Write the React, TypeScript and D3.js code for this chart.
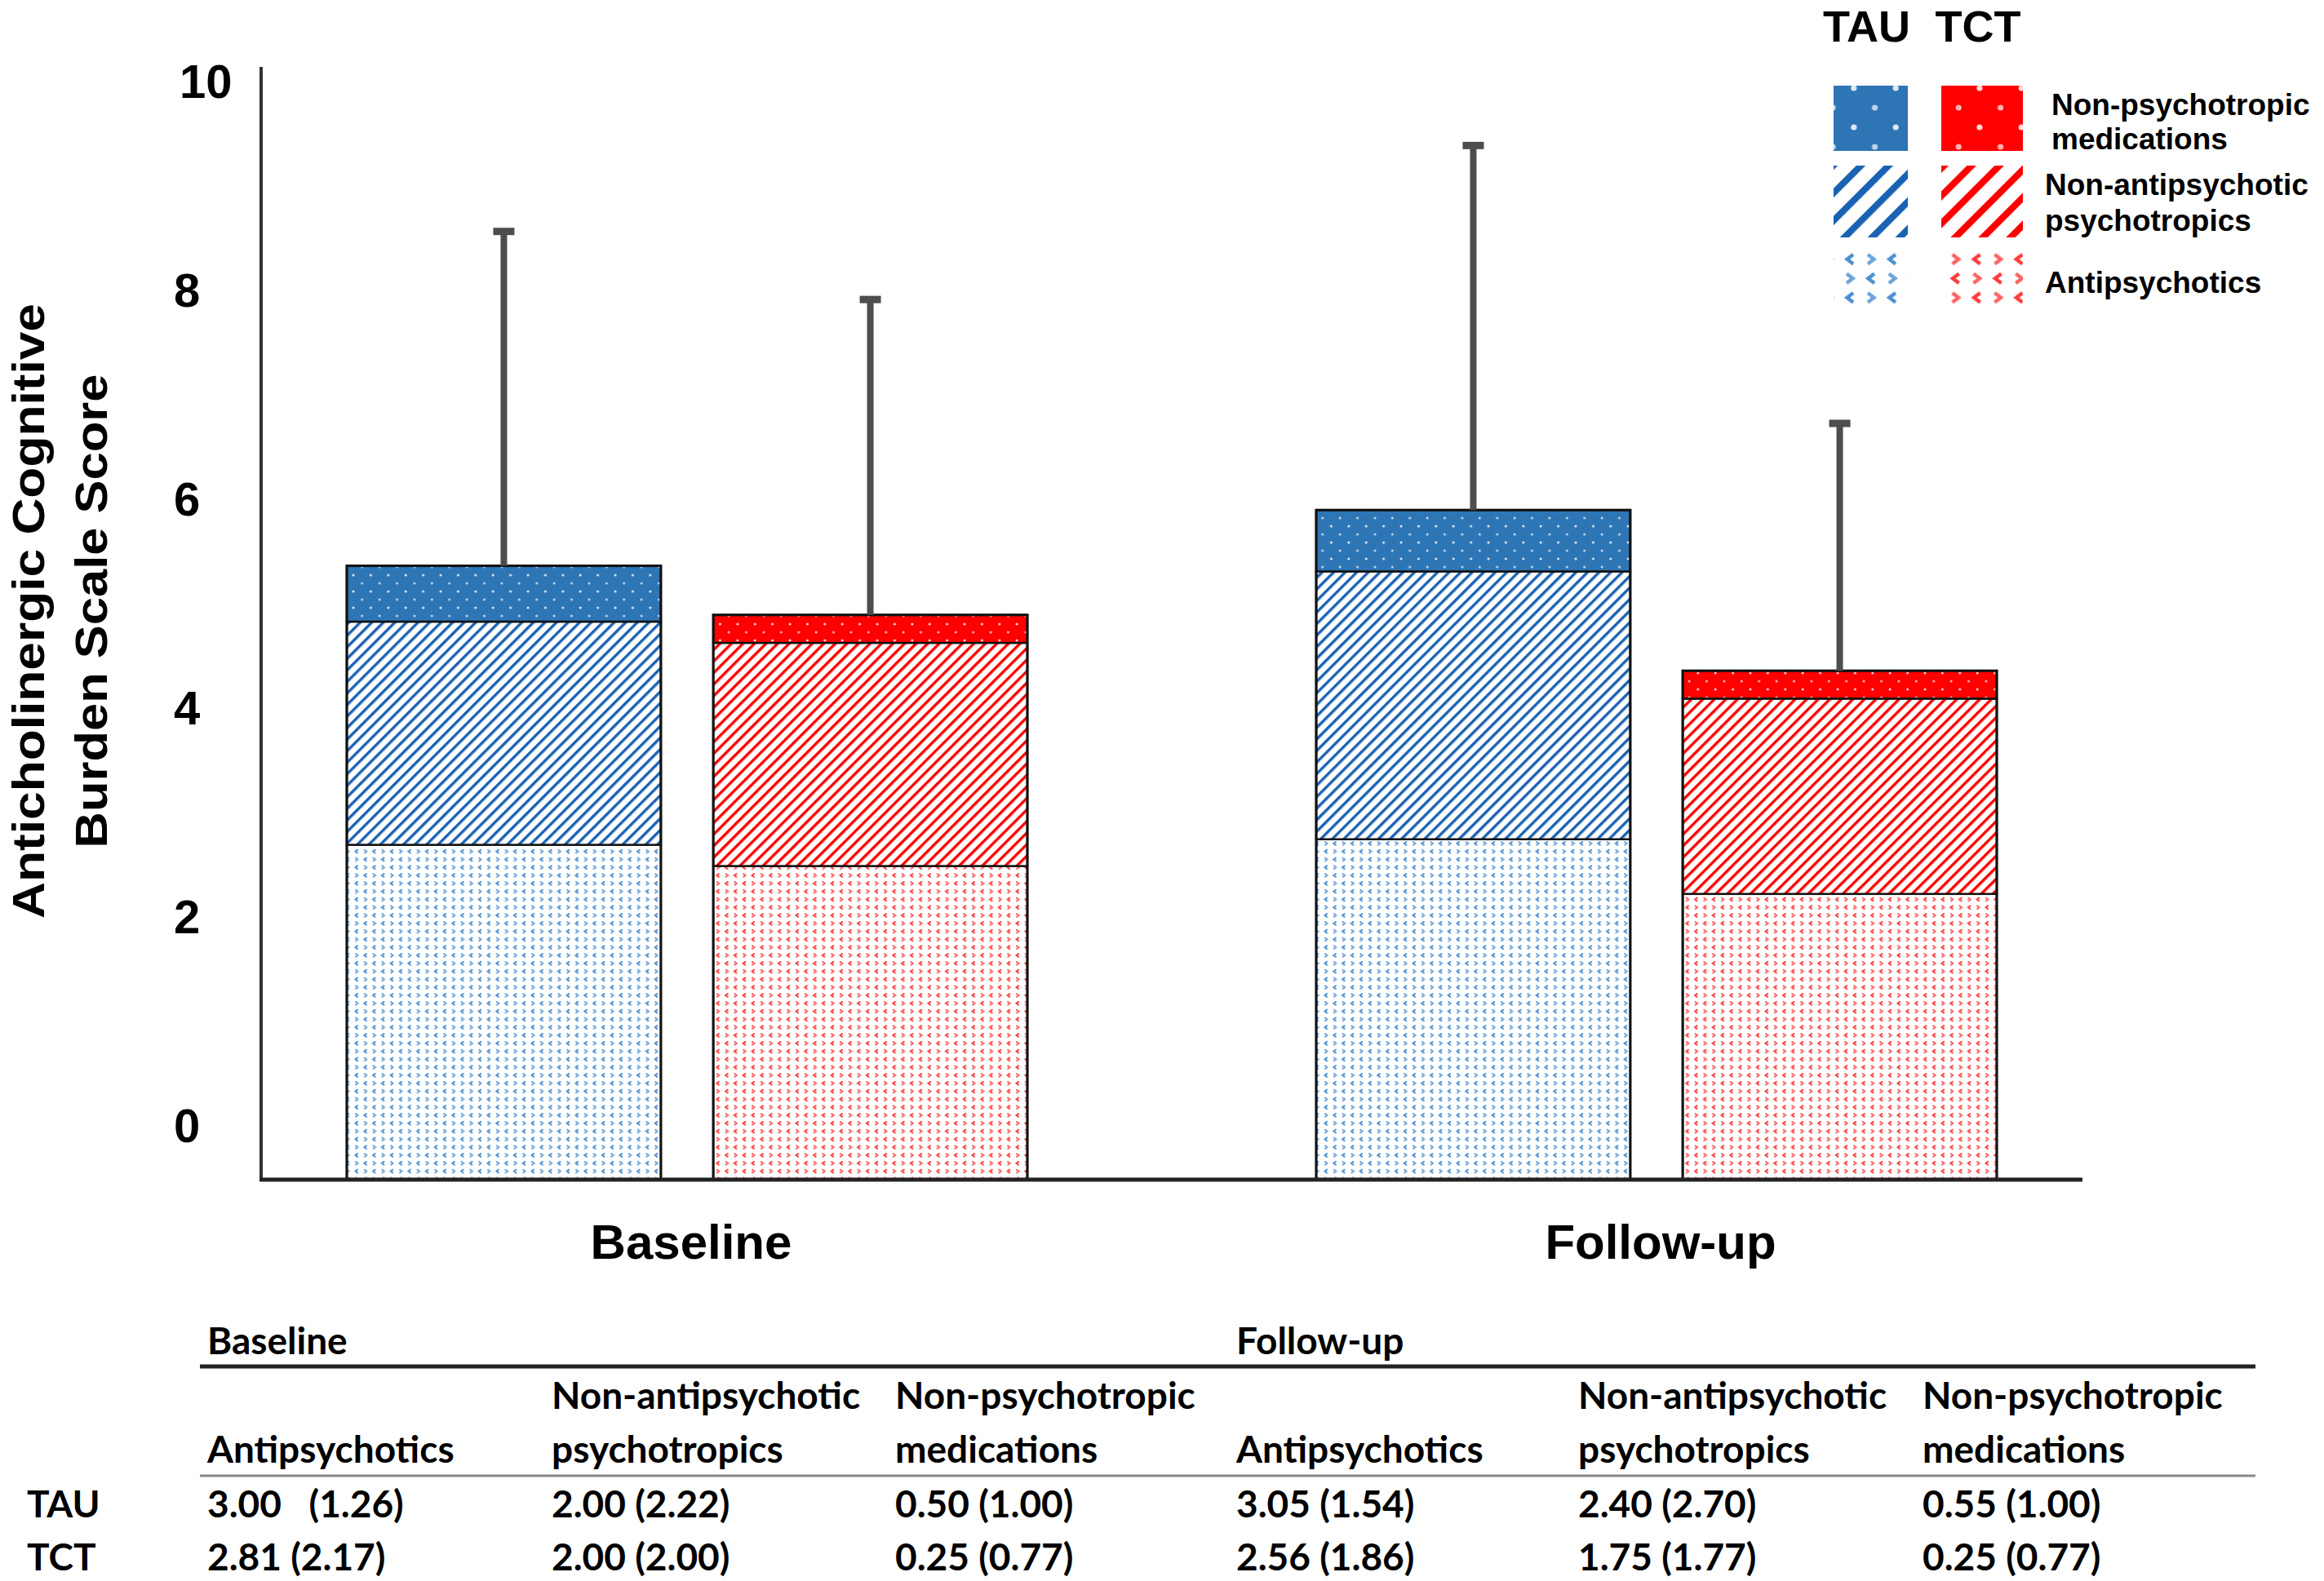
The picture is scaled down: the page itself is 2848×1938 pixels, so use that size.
import React from 'react';
import * as d3 from 'd3';

// ---------- data ----------
const groups = ['Baseline', 'Follow-up'];
const arms = ['TAU', 'TCT'];
const componentKeys = ['antipsychotics', 'nonAntipsychotic', 'nonPsychotropic'];
const componentLabels = [['Antipsychotics'], ['Non-antipsychotic', 'psychotropics'], ['Non-psychotropic', 'medications']];

const tauAntipsychotics = [3.0, 3.05];
const tauNonAntipsychotic = [2.0, 2.4];
const tauNonPsychotropic = [0.5, 0.55];
const tctAntipsychotics = [2.81, 2.56];
const tctNonAntipsychotic = [2.0, 1.75];
const tctNonPsychotropic = [0.25, 0.25];
// upper error bar length above stacked total
const tauError = [3.0, 3.27];
const tctError = [2.83, 2.22];

const yTicks = [0, 2, 4, 6, 8, 10];
const yTitle = ['Anticholinergic Cognitive', 'Burden Scale Score'];

// table
const tableGroups = ['Baseline', 'Follow-up'];
const tableHeadLine1 = ['', 'Non-antipsychotic', 'Non-psychotropic', '', 'Non-antipsychotic', 'Non-psychotropic'];
const tableHeadLine2 = ['Antipsychotics', 'psychotropics', 'medications', 'Antipsychotics', 'psychotropics', 'medications'];
const tableRowLabels = ['TAU', 'TCT'];
const tableTAU = ['3.00   (1.26)', '2.00 (2.22)', '0.50 (1.00)', '3.05 (1.54)', '2.40 (2.70)', '0.55 (1.00)'];
const tableTCT = ['2.81 (2.17)', '2.00 (2.00)', '0.25 (0.77)', '2.56 (1.86)', '1.75 (1.77)', '0.25 (0.77)'];

// ---------- styling ----------
const armColors: Record<string, { solid: string; hatch: string; chev: string }> = {
  TAU: { solid: '#2e75b6', hatch: '#1a62b3', chev: '#4a8fd0' },
  TCT: { solid: '#ff0000', hatch: '#ff0000', chev: '#ff3b3b' },
};
const patternFor = ['chev', 'hatch', 'dots'];

const W = 2848;
const H = 1938;
const plotLeft = 320;
const plotRight = 2552;

const y = d3.scaleLinear().domain([0, 10]).range([1446, 78]);
const yLabel = d3.scaleLinear().domain([0, 10]).range([1380, 100]);
const xGroup = d3.scaleBand<string>().domain(groups).range([248, 2624]);
const xArm = d3.scaleBand<string>().domain(arms).range([-417, 417]).paddingInner(0.143);

const rows = groups.flatMap((g, gi) =>
  arms.map((a) => ({
    group: g,
    arm: a,
    antipsychotics: a === 'TAU' ? tauAntipsychotics[gi] : tctAntipsychotics[gi],
    nonAntipsychotic: a === 'TAU' ? tauNonAntipsychotic[gi] : tctNonAntipsychotic[gi],
    nonPsychotropic: a === 'TAU' ? tauNonPsychotropic[gi] : tctNonPsychotropic[gi],
    err: a === 'TAU' ? tauError[gi] : tctError[gi],
  }))
);
const stacked = d3.stack<any>().keys(componentKeys)(rows);

// table columns
const tableColX = d3.scaleOrdinal<number, number>().domain([0, 1, 2, 3, 4, 5]).range([254, 676, 1097, 1515, 1934, 2356]);

function PatternSet({ arm, suffix, scale, chevW }: { arm: string; suffix: string; scale: number; chevW: number }) {
  const c = armColors[arm];
  const chevPath = (cx: number, cy: number, dir: number) =>
    `M${cx + 1.7 * dir},${cy - 2.4} L${cx - 1.5 * dir},${cy} L${cx + 1.7 * dir},${cy + 2.4}`;
  return (
    <>
      <pattern id={`dots-${arm}${suffix}`} width={21.4} height={20} patternUnits="userSpaceOnUse" patternTransform={`scale(${scale})`}>
        <rect width={21.4} height={20} fill={c.solid} />
        <circle cx={5} cy={5} r={1.5} fill="#fff" opacity={0.85} />
        <circle cx={15.7} cy={15} r={1.5} fill="#fff" opacity={0.7} />
      </pattern>
      <pattern id={`hatch-${arm}${suffix}`} width={10} height={10} patternUnits="userSpaceOnUse" patternTransform={`rotate(45) scale(${scale})`}>
        <rect width={10} height={10} fill="#fff" />
        <rect x={0} y={0} width={3.4} height={10} fill={c.hatch} />
      </pattern>
      <pattern id={`chev-${arm}${suffix}`} width={21.6} height={19.6} patternUnits="userSpaceOnUse" patternTransform={`scale(${scale})`}>
        <rect width={21.6} height={19.6} fill="#fff" />
        <path d={chevPath(5, 5, 1)} stroke={c.chev} strokeWidth={chevW} fill="none" />
        <path d={chevPath(15.8, 5, -1)} stroke={c.chev} strokeWidth={chevW} fill="none" opacity={0.8} />
        <path d={chevPath(5, 14.8, -1)} stroke={c.chev} strokeWidth={chevW} fill="none" opacity={0.8} />
        <path d={chevPath(15.8, 14.8, 1)} stroke={c.chev} strokeWidth={chevW} fill="none" />
      </pattern>
    </>
  );
}

const legendCols: Record<string, { x: number; w: number }> = {
  TAU: { x: 2247, w: 91 },
  TCT: { x: 2379, w: 100 },
};
const legendRows = [
  { key: 'nonPsychotropic', y: 105, h: 80, labelIdx: 2, lx: 2514, ly: [141, 183] },
  { key: 'nonAntipsychotic', y: 203, h: 88, labelIdx: 1, lx: 2506, ly: [239, 283] },
  { key: 'antipsychotics', y: 309, h: 69, labelIdx: 0, lx: 2506, ly: [359] },
];

export default function App() {
  const bw = xArm.bandwidth();
  const fontArial = '"Liberation Sans", Arial, sans-serif';
  const fontTable = 'Lato, "Open Sans", sans-serif';
  return (
    <svg width={W} height={H} style={{ position: 'absolute', left: 0, top: 0, background: '#fff' }} xmlns="http://www.w3.org/2000/svg">
      <defs>
        {arms.map((a) => (
          <React.Fragment key={a}>
            <PatternSet arm={a} suffix="" scale={1} chevW={2} />
            <PatternSet arm={a} suffix="-lg" scale={2.4} chevW={1.8} />
          </React.Fragment>
        ))}
      </defs>
      <rect width={W} height={H} fill="#fff" />

      {/* bars */}
      {stacked.map((layer, li) =>
        layer.map((seg, i) => {
          const r = rows[i];
          const x0 = (xGroup(r.group) as number) + xGroup.bandwidth() / 2 + (xArm(r.arm) as number);
          return (
            <rect
              key={`${li}-${i}`}
              x={x0}
              y={y(seg[1])}
              width={bw}
              height={y(seg[0]) - y(seg[1])}
              fill={`url(#${patternFor[li]}-${r.arm})`}
              stroke={li === 0 ? '#555' : '#111'}
              strokeWidth={2.5}
            />
          );
        })
      )}
      {/* outer bar outlines */}
      {rows.map((r, i) => {
        const x0 = (xGroup(r.group) as number) + xGroup.bandwidth() / 2 + (xArm(r.arm) as number);
        const total = stacked[stacked.length - 1][i][1];
        return <rect key={`o${i}`} x={x0} y={y(total)} width={bw} height={y(0) - y(total)} fill="none" stroke="#111" strokeWidth={3} />;
      })}
      {/* error bars */}
      {rows.map((r, i) => {
        const cx = (xGroup(r.group) as number) + xGroup.bandwidth() / 2 + (xArm(r.arm) as number) + bw / 2;
        const total = stacked[stacked.length - 1][i][1];
        return (
          <g key={`e${i}`}>
            <line x1={cx} x2={cx} y1={y(total)} y2={y(total + r.err)} stroke="#4d4d4d" strokeWidth={8} />
            <rect x={cx - 13} y={y(total + r.err) - 4} width={26} height={9} fill="#4d4d4d" />
          </g>
        );
      })}

      {/* axes */}
      <line x1={plotLeft} x2={plotLeft} y1={y(10) + 4} y2={y(0)} stroke="#333" strokeWidth={4} />
      <line x1={plotLeft - 2} x2={plotRight} y1={y(0)} y2={y(0)} stroke="#222" strokeWidth={5} />

      {/* y tick labels */}
      {yTicks.map((t) => (
        <text key={t} x={t >= 10 ? 220 : 213} y={yLabel(t) + 20} fontFamily={fontArial} fontWeight="bold" fontSize={58} fill="#000">
          {t}
        </text>
      ))}

      {/* y title */}
      {yTitle.map((s, i) => (
        <text
          key={s}
          transform={`translate(${54 + i * 77},749) rotate(-90)`}
          textAnchor="middle"
          fontFamily={fontArial}
          fontWeight="bold"
          fontSize={56}
          textLength={i === 0 ? 754 : 581}
          lengthAdjust="spacingAndGlyphs"
          fill="#000"
        >
          {s}
        </text>
      ))}

      {/* x group labels */}
      {groups.map((g) => (
        <text
          key={g}
          x={(xGroup(g) as number) + xGroup.bandwidth() / 2 + 5}
          y={1543}
          textAnchor="middle"
          fontFamily={fontArial}
          fontWeight="bold"
          fontSize={60}
          fill="#000"
        >
          {g}
        </text>
      ))}

      {/* legend */}
      {arms.map((a) => (
        <text key={a} x={legendCols[a].x + legendCols[a].w / 2 - 5} y={51} textAnchor="middle" fontFamily={fontArial} fontWeight="bold" fontSize={54} fill="#000">
          {a}
        </text>
      ))}
      {legendRows.map((lr) => (
        <g key={lr.key}>
          {arms.map((a) => (
            <rect
              key={a}
              x={legendCols[a].x}
              y={lr.y}
              width={legendCols[a].w}
              height={lr.h}
              fill={`url(#${patternFor[componentKeys.indexOf(lr.key)]}-${a}-lg)`}
            />
          ))}
          {componentLabels[lr.labelIdx].map((s, k) => (
            <text key={s} x={lr.lx} y={lr.ly[k]} fontFamily={fontArial} fontWeight="bold" fontSize={37} fill="#000">
              {s}
            </text>
          ))}
        </g>
      ))}

      {/* table */}
      <g fontFamily={fontTable} fontWeight={700} fontSize={46} fill="#000">
        {tableGroups.map((g, i) => (
          <text key={g} x={tableColX(i * 3)} y={1660}>
            {g}
          </text>
        ))}
        <line x1={245} x2={2764} y1={1675} y2={1675} stroke="#222" strokeWidth={5} />
        {tableHeadLine1.map((s, i) => (
          <text key={`h1${i}`} x={tableColX(i)} y={1727}>
            {s}
          </text>
        ))}
        {tableHeadLine2.map((s, i) => (
          <text key={`h2${i}`} x={tableColX(i)} y={1793}>
            {s}
          </text>
        ))}
        <line x1={245} x2={2764} y1={1809} y2={1809} stroke="#888" strokeWidth={3} />
        {tableRowLabels.map((lab, ri) => (
          <g key={lab}>
            <text x={33} y={1860 + ri * 65}>
              {lab}
            </text>
            {(ri === 0 ? tableTAU : tableTCT).map((s, i) => (
              <text key={i} x={tableColX(i)} y={1860 + ri * 65} style={{ whiteSpace: 'pre' }}>
                {s}
              </text>
            ))}
          </g>
        ))}
      </g>
    </svg>
  );
}
